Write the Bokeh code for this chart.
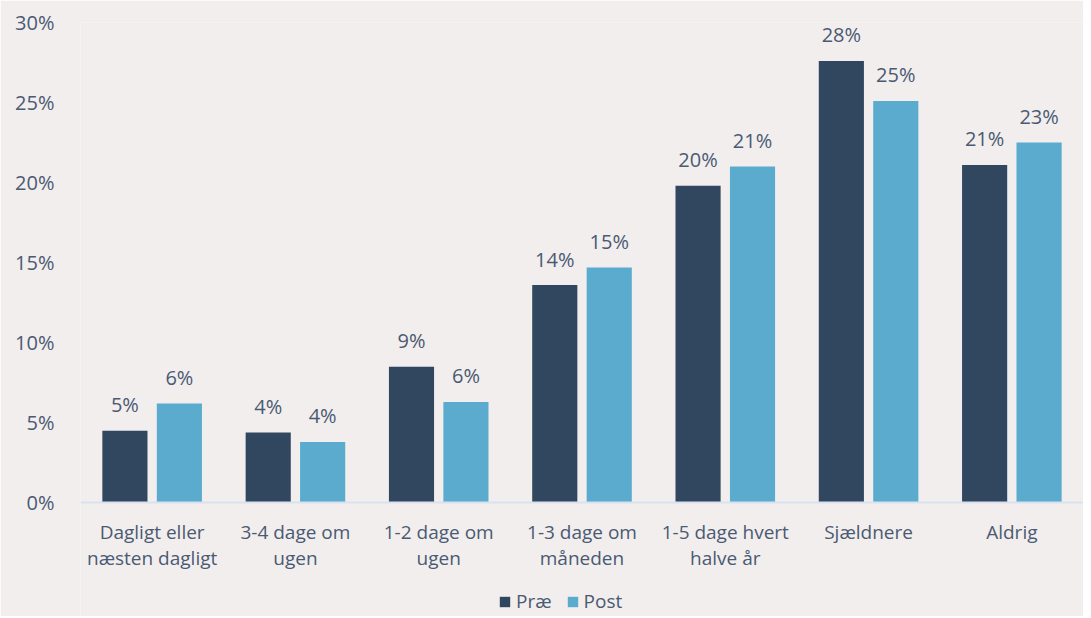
from bokeh.plotting import figure
from bokeh.models import ColumnDataSource, FactorRange, Range1d, Legend, LegendItem, NumeralTickFormatter, FixedTicker
from bokeh.core.properties import value
from bokeh.transform import dodge
from bokeh.embed import file_html
from bokeh.resources import INLINE

categories = ["Dagligt eller\nnæsten dagligt", "3-4 dage om\nugen", "1-2 dage om\nugen",
              "1-3 dage om\nmåneden", "1-5 dage hvert\nhalve år", "Sjældnere", "Aldrig"]
prae = [4.5, 4.4, 8.5, 13.6, 19.8, 27.6, 21.1]
post = [6.2, 3.8, 6.3, 14.7, 21.0, 25.1, 22.5]
prae_labels = ["5%", "4%", "9%", "14%", "20%", "28%", "21%"]
post_labels = ["6%", "4%", "6%", "15%", "21%", "25%", "23%"]
y_ticks = [0, 5, 10, 15, 20, 25, 30]

BG = "#f2eeee"
C_PRAE = "#31465f"
C_POST = "#5aabcd"
TXT = "#4a5a72"
FONT = "Open Sans"

src = ColumnDataSource(dict(cat=categories, prae=prae, post=post,
                            pl=prae_labels, ql=post_labels))

# frame spans from the top (30%) down to the window bottom, so the category
# labels and legend can sit inside it below the 0% baseline
p = figure(x_range=FactorRange(*categories), y_range=Range1d(-7.1, 30),
           frame_width=1003, frame_height=594, output_backend="svg", toolbar_location=None,
           background_fill_color=BG, border_fill_color=BG,
           min_border_left=80, min_border_right=0, min_border_top=22, min_border_bottom=0)
p.outline_line_color = None
p.grid.grid_line_color = None
p.x_range.range_padding = 0

w = 0.315
off = 0.19
r1 = p.vbar(x=dodge("cat", -off, range=p.x_range), top="prae", width=w, source=src,
            fill_color=C_PRAE, line_color=None)
r2 = p.vbar(x=dodge("cat", off, range=p.x_range), top="post", width=w, source=src,
            fill_color=C_POST, line_color=None)

for xo, col, lab in [(-off, "prae", "pl"), (off, "post", "ql")]:
    p.text(x=dodge("cat", xo, range=p.x_range), y=col, text=lab, source=src,
           text_align="center", text_baseline="alphabetic", y_offset=-26,
           text_font=value(FONT), text_font_size="20px", text_color=TXT)

p.yaxis.ticker = FixedTicker(ticks=y_ticks)
p.yaxis.formatter = NumeralTickFormatter(format="0")
p.yaxis.major_label_overrides = {t: f"{t}%" for t in y_ticks}
p.yaxis.axis_line_color = None
p.yaxis.major_tick_line_color = None
p.yaxis.minor_tick_line_color = None
p.yaxis.major_label_standoff = 20
p.yaxis.major_label_text_font = FONT
p.yaxis.major_label_text_font_size = "20px"
p.yaxis.major_label_text_color = TXT

p.xaxis.fixed_location = 0
p.xaxis.axis_line_color = "#d9e1ef"
p.xaxis.axis_line_width = 2
p.xaxis.major_tick_line_color = None
p.xaxis.minor_tick_line_color = None
p.xaxis.major_tick_in = 0
p.xaxis.major_tick_out = 0
p.xaxis.major_label_standoff = 16
p.xaxis.major_label_text_font = FONT
p.xaxis.major_label_text_font_size = "19px"
p.xaxis.major_label_text_color = TXT
p.xaxis.major_label_text_line_height = 1.0

legend = Legend(items=[LegendItem(label="Præ", renderers=[r1]),
                       LegendItem(label="Post", renderers=[r2])],
                orientation="horizontal", location=(418, 2),
                background_fill_alpha=0, border_line_color=None,
                label_text_font=FONT, label_text_font_size="19px", label_text_color=TXT,
                glyph_width=13, glyph_height=13, spacing=14, label_standoff=5,
                label_height=18, padding=0, margin=0)
p.add_layout(legend)

open("out.html", "w").write(file_html(p, INLINE))
